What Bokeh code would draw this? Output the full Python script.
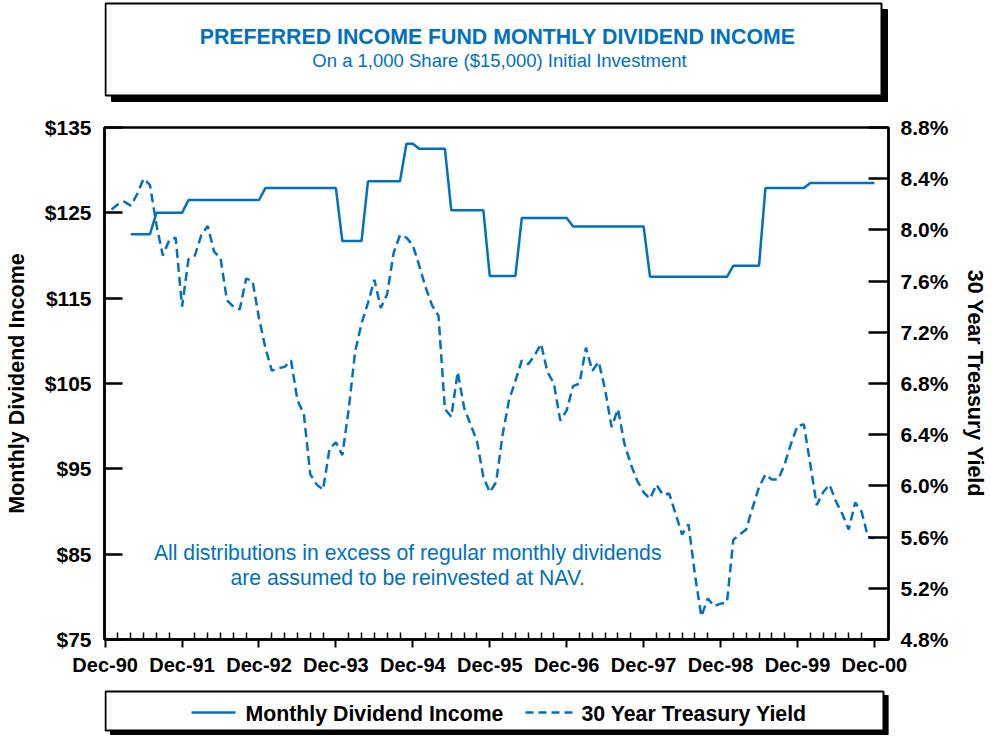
from bokeh.plotting import figure
from bokeh.models import Range1d, LinearAxis, FixedTicker, Label
from bokeh.layouts import column
from bokeh.core.properties import value
from bokeh.embed import file_html
from bokeh.resources import INLINE

# ---------------- data (months counted from Dec-1990) ----------------
x_tick_months = [0, 12, 24, 36, 48, 60, 72, 84, 96, 108, 120]
x_tick_labels = ["Dec-90", "Dec-91", "Dec-92", "Dec-93", "Dec-94", "Dec-95",
                 "Dec-96", "Dec-97", "Dec-98", "Dec-99", "Dec-00"]
x_minor_months = [m for m in range(2, 120, 2) if m % 12 != 0]

left_ticks = [75, 85, 95, 105, 115, 125, 135]
left_labels = ["$75", "$85", "$95", "$105", "$115", "$125", "$135"]
right_ticks = [4.8, 5.2, 5.6, 6.0, 6.4, 6.8, 7.2, 7.6, 8.0, 8.4, 8.8]
right_labels = ["4.8%", "5.2%", "5.6%", "6.0%", "6.4%", "6.8%", "7.2%",
                "7.6%", "8.0%", "8.4%", "8.8%"]

dividend_first_month = 4  # Apr-91
dividend_income = [
    122.5, 122.5, 122.5, 122.5,
    125.0, 125.0, 125.0, 125.0, 125.0,
    126.5, 126.5, 126.5, 126.5, 126.5, 126.5, 126.5, 126.5, 126.5, 126.5, 126.5, 126.5,
    127.9, 127.9, 127.9, 127.9, 127.9, 127.9, 127.9, 127.9, 127.9, 127.9, 127.9, 127.9,
    121.7, 121.7, 121.7, 121.7,
    128.7, 128.7, 128.7, 128.7, 128.7, 128.7,
    133.1, 133.1,
    132.5, 132.5, 132.5, 132.5, 132.5,
    125.3, 125.3, 125.3, 125.3, 125.3, 125.3,
    117.6, 117.6, 117.6, 117.6, 117.6,
    124.4, 124.4, 124.4, 124.4, 124.4, 124.4, 124.4, 124.4,
    123.4, 123.4, 123.4, 123.4, 123.4, 123.4, 123.4, 123.4, 123.4, 123.4, 123.4, 123.4,
    117.5, 117.5, 117.5, 117.5, 117.5, 117.5, 117.5, 117.5, 117.5, 117.5, 117.5, 117.5, 117.5,
    118.8, 118.8, 118.8, 118.8, 118.8,
    127.9, 127.9, 127.9, 127.9, 127.9, 127.9, 127.9,
    128.5, 128.5, 128.5, 128.5, 128.5, 128.5, 128.5, 128.5, 128.5, 128.5, 128.5,
]

treasury_first_month = 1  # Jan-91
treasury_yield = [
    8.16, 8.20, 8.22, 8.19, 8.28, 8.40, 8.35, 8.04, 7.80, 7.92, 7.94, 7.40,
    7.77, 7.80, 7.96, 8.03, 7.83, 7.78, 7.45, 7.40, 7.38, 7.62, 7.60, 7.31,
    7.08, 6.90, 6.92, 6.93, 6.98, 6.67, 6.56, 6.09, 6.01, 5.97, 6.29, 6.34,
    6.24, 6.60, 7.05, 7.27, 7.43, 7.61, 7.39, 7.50, 7.82, 7.96, 7.94, 7.88,
    7.72, 7.55, 7.41, 7.33, 6.60, 6.54, 6.89, 6.61, 6.48, 6.35, 6.07, 5.95,
    6.03, 6.40, 6.67, 6.82, 6.98, 6.95, 7.02, 7.11, 6.89, 6.80, 6.51, 6.59,
    6.78, 6.80, 7.08, 6.90, 6.97, 6.75, 6.46, 6.60, 6.33, 6.17, 6.04, 5.95,
    5.90, 6.01, 5.93, 5.94, 5.78, 5.62, 5.70, 5.31, 4.98, 5.12, 5.06, 5.08,
    5.09, 5.58, 5.62, 5.66, 5.83, 5.99, 6.09, 6.05, 6.05, 6.17, 6.33, 6.47,
    6.48, 6.17, 5.85, 5.95, 6.01, 5.88, 5.78, 5.66, 5.87, 5.80, 5.60, 5.59,
]

title_text = "PREFERRED INCOME FUND MONTHLY DIVIDEND INCOME"
subtitle_text = "On a 1,000 Share ($15,000) Initial Investment"
note_lines = ["All distributions in excess of regular monthly dividends",
              "are assumed to be reinvested at NAV."]
series_names = ["Monthly Dividend Income", "30 Year Treasury Yield"]

dividend_months = [dividend_first_month + i for i in range(len(dividend_income))]
treasury_months = [treasury_first_month + i for i in range(len(treasury_yield))]

BLUE = "#0070C0"
FONT = "Liberation Sans"
W = 991
FL, FR = 104, 888                 # frame left / right (page px), shared by all panels
TITLE_H, MAIN_H, LEG_H = 110, 574, 52
FT, FB = 127, 639                 # main frame top / bottom (page px)
XR = (-0.1, 122.2)
YR = (75, 135)


def deco_figure(top, height):
    """a panel whose data coordinates equal page pixels (for the boxes)"""
    f = figure(width=W, height=height, x_range=Range1d(FL, FR),
               y_range=Range1d(top + height, top),
               output_backend="svg", toolbar_location=None,
               x_axis_location=None, y_axis_location=None,
               min_border_left=FL, min_border_right=W - FR,
               min_border_top=0, min_border_bottom=0)
    f.grid.visible = False
    f.outline_line_color = None
    return f


def framed_box(f, l, r, t, b, off_x, off_y):
    f.quad(left=[l + off_x], right=[r + off_x], top=[t + off_y], bottom=[b + off_y],
           fill_color="black", line_color="black")
    f.quad(left=[l], right=[r], top=[t], bottom=[b], fill_color="white",
           line_color="black", line_width=2)


# ---------------- title panel ----------------
t = deco_figure(0, TITLE_H)
framed_box(t, 105, 881, 3, 95, 6, 6)
t.text(x=[497], y=[36], text=[title_text], text_align="center", text_baseline="middle",
       text_font=value(FONT), text_font_style="bold", text_font_size="21.3px",
       text_color=BLUE)
t.text(x=[499], y=[60], text=[subtitle_text], text_align="center", text_baseline="middle",
       text_font=value(FONT), text_font_size="18.5px", text_color=BLUE)

# ---------------- main chart ----------------
p = figure(width=W, height=MAIN_H, output_backend="svg", toolbar_location=None,
           x_range=Range1d(*XR), y_range=Range1d(*YR),
           min_border_left=FL, min_border_right=W - FR,
           min_border_top=FT - TITLE_H, min_border_bottom=TITLE_H + MAIN_H - FB)
p.extra_y_ranges = {"yield": Range1d(4.8, 8.8)}
p.grid.visible = False
p.outline_line_color = "black"
p.outline_line_width = 2.5
p.outline_line_alpha = 1.0

p.line(dividend_months, dividend_income, line_color=BLUE, line_width=2.5)
p.line(treasury_months, treasury_yield, y_range_name="yield", line_color=BLUE,
       line_width=2.5, line_dash="9 5")

xa = p.xaxis[0]
xa.ticker = FixedTicker(ticks=x_tick_months, minor_ticks=x_minor_months)
xa.major_label_overrides = {m: lab for m, lab in zip(x_tick_months, x_tick_labels)}
xa.major_tick_in = 0
xa.major_tick_out = 8
xa.minor_tick_in = 7
xa.minor_tick_out = 0
xa.major_tick_line_width = 2
xa.minor_tick_line_width = 1.5
xa.axis_line_width = 2.5
xa.major_label_standoff = 6

ya = p.yaxis[0]
ya.ticker = FixedTicker(ticks=left_ticks)
ya.major_label_overrides = {v: lab for v, lab in zip(left_ticks, left_labels)}
ya.major_tick_in = 18
ya.major_tick_out = 0
ya.minor_tick_in = 0
ya.minor_tick_out = 0
ya.major_tick_line_width = 2.5
ya.axis_line_width = 2.5
ya.major_label_standoff = 13
ya.axis_label = series_names[0]
ya.axis_label_standoff = 13

ra = LinearAxis(y_range_name="yield")
ra.ticker = FixedTicker(ticks=right_ticks)
ra.major_label_overrides = {v: lab for v, lab in zip(right_ticks, right_labels)}
ra.major_tick_in = 20
ra.major_tick_out = 0
ra.minor_tick_in = 0
ra.minor_tick_out = 0
ra.major_tick_line_width = 2.5
ra.axis_line_width = 2.5
ra.major_label_standoff = 12
ra.axis_label = series_names[1]
ra.axis_label_standoff = 12
p.add_layout(ra, "right")

for ax in (xa, ya, ra):
    ax.major_label_text_font = FONT
    ax.major_label_text_font_style = "bold"
    ax.major_label_text_font_size = "20px" if ax is xa else "21px"
    ax.major_label_text_color = "black"
    ax.axis_label_text_font = FONT
    ax.axis_label_text_font_style = "bold"
    ax.axis_label_text_font_size = "21.5px"
    ax.axis_label_text_color = "black"
    ax.major_tick_line_color = "black"
    ax.minor_tick_line_color = "black"
    ax.axis_line_color = "black"

# note inside the plot (position given in data units)
note_x, note_y, note_gap = 47.2, 85.2, 2.93
for i, line in enumerate(note_lines):
    p.add_layout(Label(x=note_x, y=note_y - note_gap * i, text=line, text_align="center",
                       text_baseline="middle", text_font=FONT, text_font_size="21.2px",
                       text_color=BLUE))

# ---------------- legend panel ----------------
LEG_TOP = TITLE_H + MAIN_H
lg = deco_figure(LEG_TOP, LEG_H)
framed_box(lg, 105, 883, 691, 730, 5, 4)
LEG_Y = 712
lg.line([191, 235], [LEG_Y, LEG_Y], line_color=BLUE, line_width=2.5)
lg.line([525, 572], [LEG_Y, LEG_Y], line_color=BLUE, line_width=2.5, line_dash="8 5")
lg.text(x=[245, 581], y=[LEG_Y + 1, LEG_Y + 1], text=series_names, text_align="left",
        text_baseline="middle", text_font=value(FONT), text_font_style="bold",
        text_font_size="21.3px", text_color="black")

layout = column(t, p, lg, spacing=0)
open("out.html", "w").write(file_html(layout, INLINE))
